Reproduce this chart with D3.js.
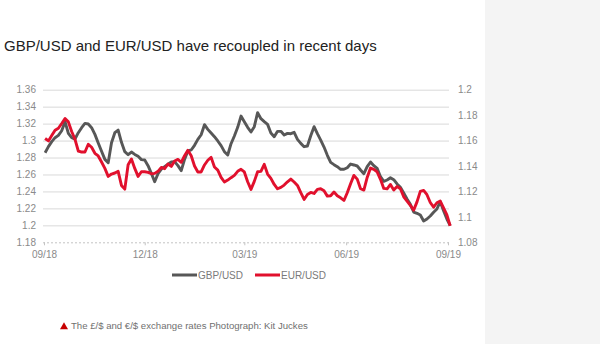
<!DOCTYPE html>
<html><head><meta charset="utf-8">
<script src="https://cdn.jsdelivr.net/npm/d3@7"></script>
<style>body{margin:0;background:#fff}svg{display:block}</style>
</head><body><svg id="c" width="600" height="344"></svg>
<script>
const dates = [
"2018-09-02","2018-09-05","2018-09-08","2018-09-11","2018-09-14","2018-09-17","2018-09-20","2018-09-23","2018-09-26","2018-09-29",
"2018-10-02","2018-10-05","2018-10-08","2018-10-11","2018-10-14","2018-10-17","2018-10-20","2018-10-23","2018-10-26","2018-10-29",
"2018-11-01","2018-11-04","2018-11-07","2018-11-10","2018-11-13","2018-11-16","2018-11-19","2018-11-22","2018-11-25","2018-11-28",
"2018-12-01","2018-12-04","2018-12-07","2018-12-10","2018-12-13","2018-12-16","2018-12-19","2018-12-22","2018-12-25","2018-12-28","2018-12-31",
"2019-01-03","2019-01-06","2019-01-09","2019-01-12","2019-01-15","2019-01-18","2019-01-21","2019-01-24","2019-01-27","2019-01-30",
"2019-02-02","2019-02-05","2019-02-08","2019-02-11","2019-02-14","2019-02-17","2019-02-20","2019-02-23","2019-02-26",
"2019-03-01","2019-03-04","2019-03-07","2019-03-10","2019-03-13","2019-03-16","2019-03-19","2019-03-22","2019-03-25","2019-03-28","2019-03-31",
"2019-04-03","2019-04-06","2019-04-09","2019-04-12","2019-04-15","2019-04-18","2019-04-21","2019-04-24","2019-04-27","2019-04-30",
"2019-05-03","2019-05-06","2019-05-09","2019-05-12","2019-05-15","2019-05-18","2019-05-21","2019-05-24","2019-05-27","2019-05-30",
"2019-06-02","2019-06-05","2019-06-08","2019-06-11","2019-06-14","2019-06-17","2019-06-20","2019-06-23","2019-06-26","2019-06-29",
"2019-07-02","2019-07-05","2019-07-08","2019-07-11","2019-07-14","2019-07-17","2019-07-20","2019-07-23","2019-07-26","2019-07-29",
"2019-08-01","2019-08-04","2019-08-07","2019-08-10","2019-08-13","2019-08-16","2019-08-19","2019-08-22","2019-08-25","2019-08-28","2019-08-31",
"2019-09-03"];

const gbpUsd = [
1.2857,1.2928,1.2987,1.3034,1.3061,1.3116,1.3223,1.3085,1.3034,1.3018,
1.3093,1.3152,1.3203,1.3195,1.3152,1.3073,1.2971,1.2873,1.2778,1.2739,
1.2975,1.3093,1.3124,1.2979,1.2869,1.2833,1.2865,1.2837,1.2814,1.2775,
1.2771,1.2704,1.2613,1.2515,1.2609,1.2664,1.2692,1.2720,1.2747,1.2751,1.2704,
1.2645,1.2778,1.2877,1.2889,1.2944,1.3014,1.3069,1.3187,1.3132,1.3089,
1.3046,1.2995,1.2940,1.2869,1.2830,1.2963,1.3054,1.3156,1.3289,
1.3223,1.3156,1.3101,1.3164,1.3329,1.3258,1.3223,1.3191,1.3089,1.3046,1.3109,
1.3109,1.3065,1.3085,1.3081,1.3097,1.3014,1.2967,1.2928,1.2936,1.3057,
1.3164,1.3081,1.3006,1.2924,1.2826,1.2743,1.2716,1.2692,1.2661,1.2661,
1.2680,1.2723,1.2712,1.2700,1.2653,1.2609,1.2692,1.2747,1.2704,1.2672,
1.2574,1.2519,1.2535,1.2562,1.2539,1.2488,1.2448,1.2382,1.2311,1.2248,
1.2157,1.2142,1.2122,1.2051,1.2075,1.2110,1.2154,1.2193,1.2279,1.2173,1.2075,
1.1996];

const eurUsd = [
1.1616,1.1597,1.1639,1.1681,1.1697,1.1734,1.1773,1.1747,1.1671,1.1610,
1.1518,1.1510,1.1510,1.1571,1.1547,1.1500,1.1479,1.1431,1.1381,1.1318,
1.1337,1.1345,1.1358,1.1247,1.1218,1.1410,1.1455,1.1381,1.1318,1.1355,
1.1355,1.1350,1.1339,1.1342,1.1358,1.1389,1.1379,1.1416,1.1397,1.1439,1.1452,
1.1429,1.1481,1.1523,1.1481,1.1400,1.1353,1.1353,1.1408,1.1445,1.1468,
1.1392,1.1368,1.1310,1.1274,1.1289,1.1308,1.1326,1.1358,1.1374,
1.1353,1.1276,1.1216,1.1279,1.1355,1.1358,1.1413,1.1337,1.1303,1.1255,1.1221,
1.1232,1.1250,1.1276,1.1297,1.1274,1.1247,1.1190,1.1137,1.1176,1.1192,
1.1184,1.1216,1.1221,1.1205,1.1163,1.1166,1.1195,1.1166,1.1150,1.1129,
1.1190,1.1261,1.1326,1.1297,1.1221,1.1211,1.1310,1.1384,1.1374,1.1353,
1.1295,1.1224,1.1221,1.1255,1.1211,1.1239,1.1221,1.1158,1.1124,1.1090,
1.1053,1.1118,1.1200,1.1208,1.1174,1.1113,1.1076,1.1111,1.1124,1.1071,1.1016,
1.0929];

const leftTicks = [1.18,1.20,1.22,1.24,1.26,1.28,1.30,1.32,1.34,1.36];
const rightTicks = [1.08,1.10,1.12,1.14,1.16,1.18,1.20];
const xTickDates = ["2018-09-01","2018-12-01","2019-03-01","2019-06-01","2019-09-01"];
const xTickLabels = ["09/18","12/18","03/19","06/19","09/19"];
const xDomain = ["2018-09-01","2019-09-03"];
const seriesNames = ["GBP/USD","EUR/USD"];
const titleText = "GBP/USD and EUR/USD have recoupled in recent days";
const captionText = "The £/$ and €/$ exchange rates Photograph: Kit Juckes";

const colors = {gbp:"#575757", eur:"#e1102d", grid:"#d9d9d9", axisText:"#8a8a8a"};
const font = "'Liberation Sans', Arial, Helvetica, sans-serif";

const svg = d3.select("#c");
svg.append("rect").attr("x",485).attr("y",0).attr("width",115).attr("height",344).attr("fill","#f4f4f4");

const parse = d3.utcParse("%Y-%m-%d");
const x = d3.scaleUtc().domain(xDomain.map(parse)).range([44, 450.2]);
const yL = d3.scaleLinear().domain([1.18,1.36]).range([242.3, 89.7]);
const yR = d3.scaleLinear().domain([1.08,1.20]).range([242.3, 89.7]);
const fmt = d => String(+d.toFixed(2));

// title
svg.append("text").attr("x",4).attr("y",50.5).attr("font-family",font).attr("font-size",15)
  .attr("fill","#222").text(titleText);

// left axis with gridlines
const gL = svg.append("g").attr("transform","translate(43,0)")
  .call(d3.axisLeft(yL).tickValues(leftTicks).tickFormat(fmt).tickSize(-406).tickPadding(7));
gL.select(".domain").remove();
gL.selectAll(".tick line").attr("stroke-width",1)
  .attr("stroke-dasharray", d => d === 1.18 ? "2,2" : null)
  .attr("stroke", d => d === 1.18 ? "#c4c4c4" : colors.grid);
gL.selectAll(".tick text").attr("fill",colors.axisText).attr("font-family",font).attr("font-size",10);

// right axis
const gR = svg.append("g").attr("transform","translate(449,0)")
  .call(d3.axisRight(yR).tickValues(rightTicks).tickFormat(fmt).tickSize(0).tickPadding(9));
gR.select(".domain").remove();
gR.selectAll(".tick text").attr("fill",colors.axisText).attr("font-family",font).attr("font-size",10);

// x axis
const gX = svg.append("g").attr("transform","translate(0,242.3)")
  .call(d3.axisBottom(x).tickValues(xTickDates.map(parse)).tickFormat((d,i)=>xTickLabels[i]).tickSize(3).tickPadding(6));
gX.select(".domain").remove();
gX.selectAll(".tick line").attr("stroke","#c4c4c4");
gX.selectAll(".tick text").attr("fill",colors.axisText).attr("font-family",font).attr("font-size",10);

// lines
const gbpData = dates.map((d,i)=>({date:parse(d), v:gbpUsd[i]}));
const eurData = dates.map((d,i)=>({date:parse(d), v:eurUsd[i]}));
svg.append("path").datum(gbpData).attr("fill","none").attr("stroke",colors.gbp).attr("stroke-width",2.9)
  .attr("stroke-linejoin","round").attr("d", d3.line().x(d=>x(d.date)).y(d=>yL(d.v)));
svg.append("path").datum(eurData).attr("fill","none").attr("stroke",colors.eur).attr("stroke-width",2.9)
  .attr("stroke-linejoin","round").attr("d", d3.line().x(d=>x(d.date)).y(d=>yR(d.v)));

// legend
const legend = [{name:seriesNames[0], c:colors.gbp, x:172},{name:seriesNames[1], c:colors.eur, x:255}];
legend.forEach(l=>{
  svg.append("line").attr("x1",l.x).attr("x2",l.x+25).attr("y1",275).attr("y2",275)
    .attr("stroke",l.c).attr("stroke-width",3);
  svg.append("text").attr("x",l.x+26).attr("y",278.5).attr("font-family",font).attr("font-size",10)
    .attr("fill","#7a7a7a").text(l.name);
});

// caption
svg.append("path").attr("d","M60,329.3 L64,322.3 L68,329.3 Z").attr("fill","#c70000");
svg.append("text").attr("x",71).attr("y",329.3).attr("font-family",font).attr("font-size",9.6)
  .attr("fill","#707070").text(captionText);
</script></body></html>
